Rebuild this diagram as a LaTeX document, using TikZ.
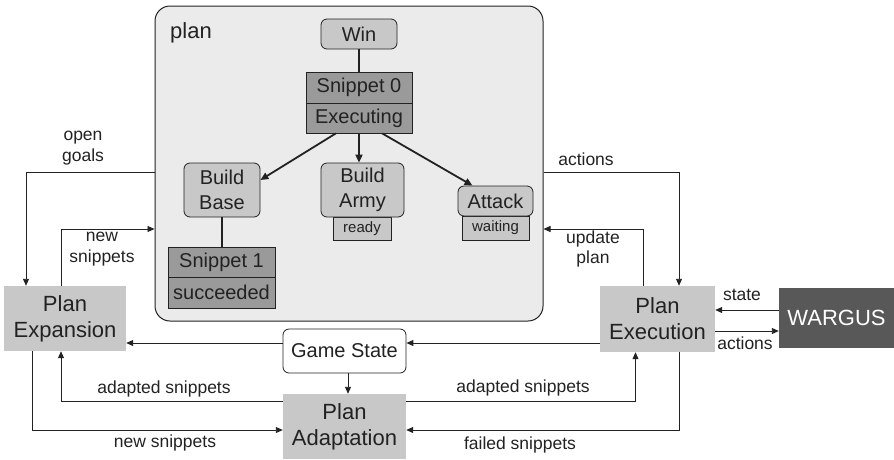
\documentclass[tikz,border=0pt]{standalone}
\usepackage{fontspec}
\setmainfont{Liberation Sans}
\usetikzlibrary{arrows.meta,calc}
\definecolor{boxgray}{HTML}{C8C8C8}
\definecolor{snipgray}{HTML}{9A9A9A}
\definecolor{plangray}{HTML}{EBEBEB}
\definecolor{wargray}{HTML}{585858}
\definecolor{linecol}{HTML}{222222}
\begin{document}
\begin{tikzpicture}[x=1pt,y=-1pt,
  big/.style={fill=boxgray, draw=none, inner sep=0pt, align=center, font=\fontsize{22}{26}\selectfont, text=linecol},
  inbox/.style={draw=linecol, line width=0.8pt, fill=boxgray, rounded corners=6pt, inner sep=0pt, align=center, font=\fontsize{20}{25}\selectfont, text=linecol},
  snip/.style={draw=linecol, line width=0.8pt, fill=snipgray, inner sep=0pt, font=\fontsize{20}{24}\selectfont, text=linecol},
  status/.style={draw=linecol, line width=0.8pt, fill=boxgray, inner sep=0pt, font=\fontsize{15}{18}\selectfont, text=linecol},
  lbl/.style={font=\fontsize{17.5}{20.5}\selectfont, align=center, inner sep=0pt, text=linecol},
  arr/.style={draw=linecol, line width=0.9pt, -{Triangle[length=7pt,width=6pt]}},
  tree/.style={draw=linecol, line width=1.8pt},
  treearr/.style={tree, -{Triangle[length=8pt,width=7pt]}},
]
\useasboundingbox (0,0) rectangle (894,459);

% plan container
\node[draw=linecol, fill=plangray, rounded corners=15pt, minimum width=388pt, minimum height=315pt, line width=1pt, inner sep=0pt] (plan) at (349,163.5) {};
\node[anchor=west, inner sep=0pt, font=\fontsize{22}{26}\selectfont, text=linecol] (plantitle) at (170,33) {plan};

% tree
\node[inbox, minimum width=76pt, minimum height=30pt] (win) at (359,34) {Win};
\node[snip, minimum width=106pt, minimum height=31pt] (s0a) at (359,87.5) {Snippet 0};
\node[snip, minimum width=106pt, minimum height=30pt] (s0b) at (359,118) {Executing};
\node[inbox, minimum width=76pt, minimum height=54pt] (bbase) at (222,190) {Build\\Base};
\node[snip, minimum width=107pt, minimum height=30pt] (s1a) at (221.5,262) {Snippet 1};
\node[snip, minimum width=107pt, minimum height=31pt] (s1b) at (221.5,292.5) {succeeded};
\node[status, minimum width=58pt, minimum height=23pt] (ready) at (362,228.5) {ready};
\node[inbox, minimum width=83pt, minimum height=54pt] (barmy) at (362.5,190) {Build\\Army};
\node[status, minimum width=67pt, minimum height=24pt] (waiting) at (495.5,228) {waiting};
\node[inbox, minimum width=75pt, minimum height=30pt] (attack) at (495.5,201) {Attack};

\draw[tree] (win) -- (s0a);
\draw[treearr] ($(s0b.south west)!0.283!(s0b.south east)$) -- ([yshift=10pt]bbase.east);
\draw[treearr] (s0b.south) -- (s0b.south |- barmy.north);
\draw[treearr] ($(s0b.south west)!0.717!(s0b.south east)$) -- ([xshift=-23pt]attack.north);
\draw[tree] (bbase.south) -- (bbase.south |- s1a.north);

% outer boxes
\node[big, minimum width=122pt, minimum height=65pt] (pexp) at (65,318.5) {Plan\\Expansion};
\node[big, minimum width=115pt, minimum height=66pt] (pexec) at (657.5,319) {Plan\\Execution};
\node[big, fill=wargray, text=white, minimum width=115pt, minimum height=60pt] (wargus) at (836.5,318) {WARGUS};
\node[draw=linecol, line width=0.8pt, fill=white, rounded corners=6pt, inner sep=0pt, minimum width=123pt, minimum height=44pt, font=\fontsize{20}{24}\selectfont, text=linecol] (gs) at (344.5,351) {Game State};
\node[big, minimum width=123pt, minimum height=65pt] (padapt) at (344.5,426.5) {Plan\\Adaptation};

% connectors
\draw[arr] (plan.west |- 0,172) -| ([xshift=-39pt]pexp.north);
\node[lbl] (lopen) at (83,148) {open\\goals};
\draw[arr] ([xshift=-4pt]pexp.north) |- (plan.west |- 0,229);
\node[lbl] (lnew1) at (102,249) {new\\snippets};
\draw[arr] (plan.east |- 0,172) -| ([xshift=21.5pt]pexec.north);
\node[lbl] (lact1) at (586,159) {actions};
\draw[arr] ([xshift=-14.5pt]pexec.north) |- (plan.east |- 0,229);
\node[lbl] (lupd) at (593,249) {update\\plan};
\draw[arr] (wargus.west |- 0,310) -- (pexec.east |- 0,310);
\node[lbl] (lstate) at (742,295) {state};
\draw[arr] (pexec.east |- 0,331) -- (wargus.west |- 0,331);
\node[lbl] (lact2) at (745,343) {actions};
\draw[arr] (pexec.west |- 0,343) -- (gs.east |- 0,343);
\draw[arr] (gs.west |- 0,343) -- (pexp.east |- 0,343);
\draw[arr] ([xshift=3.5pt]gs.south) -- ([xshift=3.5pt]padapt.north);
\draw[arr] (padapt.west |- 0,401) -| ([xshift=-4pt]pexp.south);
\node[lbl] (lad1) at (164,389) {adapted snippets};
\draw[arr] ([xshift=-33pt]pexp.south) |- (padapt.west |- 0,430);
\node[lbl] (lnew2) at (165,443) {new snippets};
\draw[arr] (padapt.east |- 0,401) -| ([xshift=-22pt]pexec.south);
\node[lbl] (lad2) at (523,388) {adapted snippets};
\draw[arr] ([xshift=21.5pt]pexec.south) |- (padapt.east |- 0,430);
\node[lbl] (lfail) at (520,445) {failed snippets};
\end{tikzpicture}
\end{document}
